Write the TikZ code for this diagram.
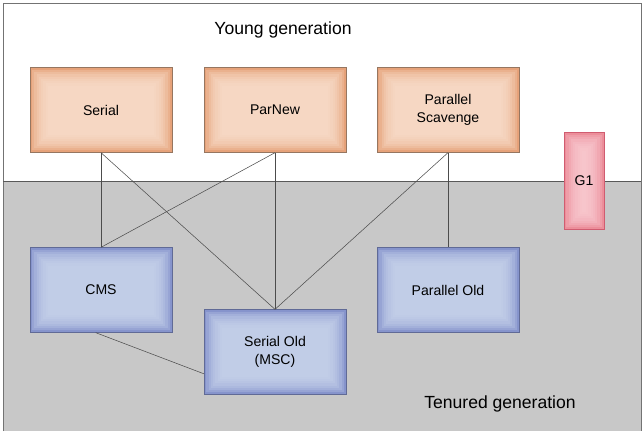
\documentclass[tikz,border=0pt]{standalone}
\usepackage{fontspec}
\setmainfont{Liberation Sans}
\definecolor{youngouter}{RGB}{230,162,122}
\definecolor{younginner}{RGB}{249,222,204}
\definecolor{youngline}{RGB}{150,118,96}
\definecolor{oldouter}{RGB}{134,148,204}
\definecolor{oldinner}{RGB}{202,212,236}
\definecolor{oldline}{RGB}{96,106,150}
\definecolor{gouter}{RGB}{236,142,154}
\definecolor{ginner}{RGB}{250,204,210}
\definecolor{gline}{RGB}{208,92,112}
\definecolor{oldbg}{RGB}{200,200,200}

\begin{document}
\begin{tikzpicture}[x=0.4mm, y=-0.4mm,
    % 内发光填充：外圈深色，向内逐层变浅
    glow/.style 2 args={
        fill=#1,
        path picture={
            \foreach \i in {1,...,8}
                \fill[#2, opacity=0.25]
                    ([xshift=\i*0.9mm, yshift=-\i*0.9mm]path picture bounding box.north west)
                    rectangle
                    ([xshift=-\i*0.9mm, yshift=\i*0.9mm]path picture bounding box.south east);
        }
    },
    % 年轻代收集器（橙色方框）
    young/.style={
        draw=youngline, glow={youngouter}{younginner},
        minimum width=56.8mm, minimum height=34mm, align=center,
        font=\fontsize{16}{21}\selectfont
    },
    % 老年代收集器（蓝色方框）
    old/.style={
        draw=oldline, glow={oldouter}{oldinner},
        minimum width=56.8mm, minimum height=34mm, align=center,
        font=\fontsize{16}{21}\selectfont
    },
    % G1 收集器（粉色竖条）
    gone/.style={
        draw=gline, glow={gouter}{ginner},
        minimum width=16mm, minimum height=38.8mm,
        font=\fontsize{16}{19}\selectfont
    },
    % 收集器之间的连线
    link/.style={draw=black!70, line width=0.6pt},
    % 区域标题
    region/.style={font=\fontsize{20}{24}\selectfont}
]

    \useasboundingbox (0,0) rectangle (644,431);

    % 1. 绘制两个区域背景与分隔线
    \fill[white] (3,3) rectangle (641,181);
    \fill[oldbg] (3,181) rectangle (641,431);
    \draw[black!55, line width=1pt] (3,431) -- (3,3) -- (641,3) -- (641,431);
    \draw[black!65, line width=0.8pt] (3,181) -- (641,181);

    % 2. 区域标题
    \node[region] (younglabel) at (283,30) {Young generation};
    \node[region] (tenuredlabel) at (500,404) {Tenured generation};

    % 3. 年轻代收集器
    \node[young] (serial) at (101,110) {Serial};
    \node[young] (parnew) at (275,110) {ParNew};
    \node[young] (pscav)  at (448,110) {Parallel\\Scavenge};

    % 4. 老年代收集器
    \node[old] (cms)       at (101,290) {CMS};
    \node[old] (serialold) at (275,352) {Serial Old\\(MSC)};
    \node[old] (pold)      at (448,290) {Parallel Old};

    % 5. G1 横跨两个区域
    \node[gone] (g1) at (584,181) {G1};

    % 6. 可搭配使用的收集器连线
    \draw[link] (serial.south) -- (cms.north);
    \draw[link] (serial.south) -- (serialold.north);
    \draw[link] (parnew.south) -- (cms.north);
    \draw[link] (parnew.south) -- (serialold.north);
    \draw[link] (pscav.south)  -- (serialold.north);
    \draw[link] (pscav.south)  -- (pold.north);
    \draw[link] (cms.263) -- (serialold.197);

\end{tikzpicture}
\end{document}
